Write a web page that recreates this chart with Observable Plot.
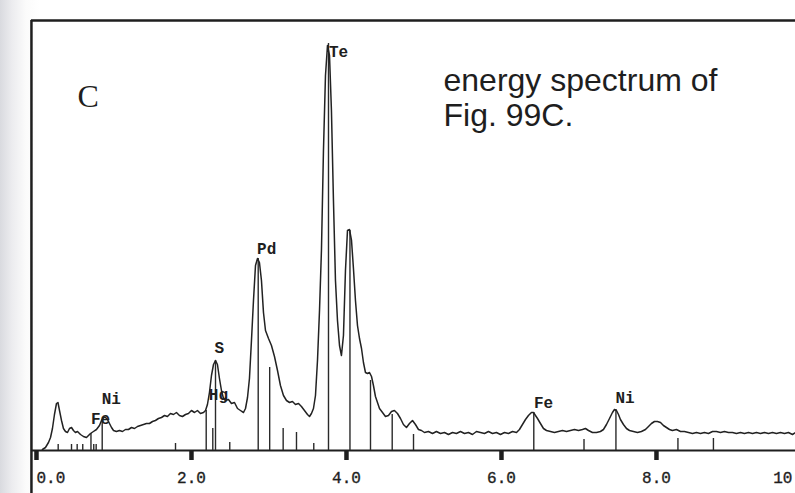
<!DOCTYPE html>
<html><head><meta charset="utf-8">
<script src="https://cdn.jsdelivr.net/npm/d3@7"></script>
<script src="https://cdn.jsdelivr.net/npm/@observablehq/plot@0.6"></script>
<style>
html,body{margin:0;padding:0;}
body{width:795px;height:493px;overflow:hidden;background:linear-gradient(to right,#d9dadf 0px,#ececef 12px,#fbfbfb 26px,#ffffff 40px);}
</style></head><body><div id="chart"></div>
<script>
// Energy (keV) of the traced spectrum points
const energy = [
 0.077,0.116,0.155,0.181,0.206,0.232,0.258,0.277,0.297,0.323,
 0.348,0.374,0.400,0.426,0.452,0.477,0.503,0.529,0.568,0.606,
 0.645,0.671,0.697,0.735,0.774,0.813,0.839,0.865,0.890,0.916,
 0.942,0.968,0.994,1.032,1.071,1.110,1.148,1.187,1.226,1.265,
 1.303,1.342,1.381,1.419,1.458,1.497,1.535,1.574,1.613,1.652,
 1.690,1.729,1.768,1.806,1.845,1.884,1.923,1.961,2.000,2.039,
 2.077,2.116,2.155,2.181,2.206,2.232,2.258,2.284,2.310,2.335,
 2.361,2.387,2.413,2.439,2.477,2.516,2.555,2.594,2.632,2.671,
 2.697,2.723,2.748,2.774,2.800,2.826,2.852,2.877,2.903,2.929,
 2.955,2.994,3.032,3.071,3.110,3.148,3.187,3.226,3.265,3.303,
 3.342,3.381,3.419,3.458,3.497,3.523,3.548,3.574,3.600,3.626,
 3.652,3.677,3.703,3.729,3.755,3.781,3.806,3.832,3.858,3.884,
 3.910,3.935,3.961,3.987,4.013,4.039,4.065,4.090,4.116,4.142,
 4.168,4.194,4.219,4.245,4.271,4.297,4.323,4.348,4.374,4.400,
 4.426,4.465,4.503,4.542,4.581,4.619,4.658,4.697,4.735,4.774,
 4.813,4.852,4.890,4.929,4.968,5.006,5.058,5.110,5.161,5.213,
 5.265,5.316,5.368,5.419,5.471,5.523,5.574,5.626,5.677,5.729,
 5.781,5.832,5.884,5.935,5.987,6.039,6.090,6.142,6.194,6.232,
 6.271,6.310,6.348,6.387,6.413,6.439,6.465,6.503,6.542,6.581,
 6.632,6.684,6.735,6.787,6.839,6.890,6.942,6.994,7.045,7.084,
 7.123,7.174,7.226,7.277,7.316,7.355,7.394,7.432,7.458,7.484,
 7.510,7.535,7.574,7.613,7.652,7.703,7.755,7.806,7.858,7.897,
 7.935,7.974,8.013,8.052,8.090,8.129,8.168,8.206,8.258,8.310,
 8.361,8.413,8.465,8.516,8.568,8.619,8.671,8.723,8.774,8.826,
 8.877,8.929,8.981,9.032,9.084,9.135,9.187,9.239,9.290,9.342,
 9.394,9.445,9.497,9.548,9.600,9.652,9.703,9.755,9.794
];
// Counts (arbitrary units) at each energy
const counts = [
 1,3,8,13,22,36,47,48,40,30,
 22,19,18,22,23,20,18,19,16,14,
 13,15,17,19,21,25,30,33,33,31,
 27,23,20,19,20,19,21,21,23,22,
 24,25,26,27,27,29,30,32,33,35,
 34,37,36,38,35,34,36,37,40,38,
 40,37,38,40,46,58,75,86,90,86,
 72,60,52,50,51,47,48,42,40,38,
 42,53,72,110,150,185,192,188,170,138,
 120,112,105,94,80,65,55,50,48,49,
 46,47,44,40,36,34,37,42,55,90,
 140,200,300,375,405,395,340,250,170,130,
 105,95,115,180,220,221,210,182,150,125,
 112,102,88,78,77,78,74,65,54,48,
 42,38,34,35,39,40,37,32,26,23,
 27,30,26,21,20,18,19,17,19,17,
 18,16,18,17,19,17,18,16,19,18,
 17,19,17,18,16,18,17,19,18,21,
 26,31,35,38,38,35,32,27,22,20,
 19,18,19,20,19,20,21,20,21,22,
 20,18,18,19,21,26,32,38,41,40,
 36,31,26,22,20,19,18,19,21,24,
 27,29,29,28,25,23,21,20,21,19,
 19,18,17,18,17,18,17,19,19,18,
 19,18,18,17,18,17,18,17,18,17,
 18,17,18,17,18,17,18,16,18,17,17
];
// KLM marker lines: energy and height
const markerEnergy = [0.280,0.452,0.525,0.597,0.703,0.739,0.770,0.848,1.794,2.190,2.275,2.310,2.494,2.861,3.009,3.183,3.355,3.578,3.768,4.045,4.310,4.590,4.865,6.417,7.065,7.477,8.277,8.735];
const markerHeight = [6,6,6,6,17,6,6,30,7,40,22,90,8,192,83,22,18,7,407,220,70,36,16,38,11,41,12,12];
// Element labels
const labelText = ["Ni","Fe","S","Hg","Pd","Te","Fe","Ni"];
const labelEnergy = [0.965,0.826,2.359,2.348,2.970,3.897,6.542,7.594];
const labelCount = [52,32,103,56,202,399,48,53];
// Axis ticks
const tickValues = [0,2,4,6,8,10];
const tickLabels = ["0.0","2.0","4.0","6.0","8.0","10"];
const panelLetter = "C";
const noteText = "energy spectrum of\nFig. 99C.";

const ink = "#1e1e1e";
const xMin = -0.103, xMax = 9.794, yTop = 430, xLeftLine = -0.065;
const idx = d3.range(tickValues.length);
const inner = idx.filter(i => tickValues[i] > 0 && tickValues[i] < 10);
const tickFont = {fontFamily: "Liberation Mono", fontSize: 16, fill: ink, stroke: ink, strokeWidth: 0.35};

const chart = Plot.plot({
  width: 795, height: 493,
  marginLeft: 28, marginRight: 0, marginTop: 20, marginBottom: 43,
  x: {domain: [xMin, xMax], axis: null},
  y: {domain: [0, yTop], axis: null},
  style: {background: "transparent"},
  marks: [
    Plot.ruleY([yTop], {x1: xLeftLine, x2: xMax, stroke: ink, strokeWidth: 2.5}),
    Plot.ruleX([xLeftLine], {y1: -43, y2: yTop, stroke: ink, strokeWidth: 2.5}),
    Plot.ruleY([0], {x1: xLeftLine, x2: xMax, stroke: ink, strokeWidth: 2}),
    Plot.ruleX(tickValues.filter(v => v <= xMax), {x: d => d, y1: 0, y2: -10, stroke: ink, strokeWidth: 4.5}),
    Plot.ruleX(markerEnergy, {x: d => d, y1: 0, y2: (d, i) => markerHeight[i], stroke: "#2a2a2a", strokeWidth: 1.4}),
    Plot.line(energy, {x: d => d, y: (d, i) => counts[i], stroke: "#222", strokeWidth: 1.5}),
    Plot.text(labelText, {x: (d, i) => labelEnergy[i], y: (d, i) => labelCount[i], text: d => d, fontFamily: "Liberation Mono", fontWeight: "bold", fontSize: 16, fill: ink}),
    Plot.text([0], {x: d => tickValues[d], y: -27, text: d => tickLabels[d], textAnchor: "start", ...tickFont}),
    Plot.text(inner, {x: d => tickValues[d], y: -27, text: d => tickLabels[d], ...tickFont}),
    Plot.text([idx.length - 1], {x: d => tickValues[d], y: -27, text: d => tickLabels[d], textAnchor: "end", dx: -19, ...tickFont}),
    Plot.text([panelLetter], {x: 0.529, y: 354, text: d => d, textAnchor: "start", fontFamily: "Liberation Serif", fontSize: 32, fill: ink}),
    Plot.text([noteText], {x: 5.252, y: 385, text: d => d, textAnchor: "start", lineAnchor: "top", lineHeight: 1.1, fontFamily: "Liberation Sans", fontSize: 32, fill: ink})
  ]
});
document.getElementById("chart").appendChild(chart);
</script>
</body></html>
